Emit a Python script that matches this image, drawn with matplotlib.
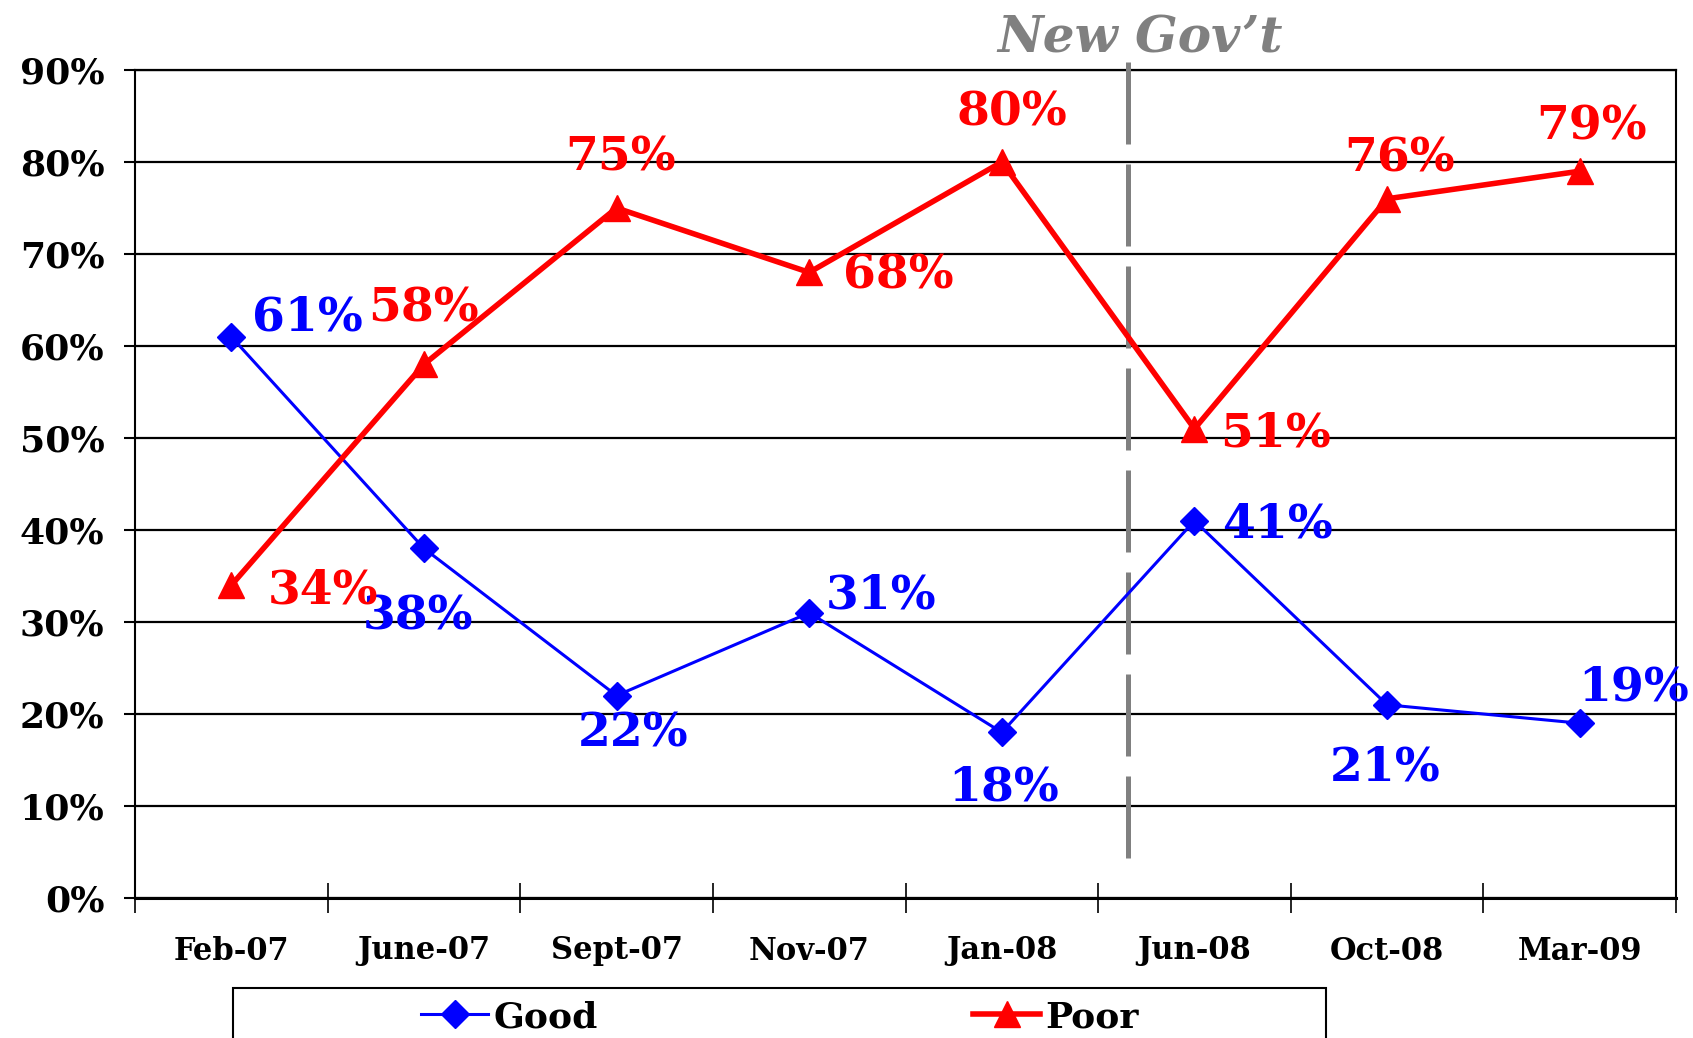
import matplotlib
matplotlib.use('Agg')
import matplotlib.pyplot as plt
from matplotlib.patches import Rectangle
from matplotlib.lines import Line2D

categories = ['Feb-07', 'June-07', 'Sept-07', 'Nov-07', 'Jan-08', 'Jun-08', 'Oct-08', 'Mar-09']
good = [61, 38, 22, 31, 18, 41, 21, 19]
poor = [34, 58, 75, 68, 80, 51, 76, 79]
ytick_values = [0, 10, 20, 30, 40, 50, 60, 70, 80, 90]
ytick_labels = [f'{v}%' for v in ytick_values]
series_names = ['Good', 'Poor']
annotation_text = 'New Gov\u2019t'

# label offsets in pixels (dx, dy; y up)
good_offsets = [(76, 19), (-6, -68), (17, -38), (72, 17), (2, -55), (83, -4), (-2, -63), (54, 36)]
poor_offsets = [(92, -5), (-1, 56), (4, 50), (89, -3), (10, 49), (81, -5), (12, 40), (12, 45)]

BLUE = '#0000FF'
RED = '#FF0000'
GRAY = '#808080'
FONT = 'DejaVu Serif'

fig = plt.figure(figsize=(16.93, 10.38), dpi=100)
ax = fig.add_axes([135 / 1693, 1 - 898 / 1038, (1676 - 135) / 1693, (898 - 70) / 1038])

x = list(range(len(categories)))
ax.set_xlim(-0.5, len(categories) - 0.5)
ax.set_ylim(0, 90)

# gridlines
for v in ytick_values:
    ax.axhline(v, color='black', lw=1.6, zorder=1)

ax.plot(x, good, color=BLUE, lw=2.2, marker='D', markersize=14, zorder=4, clip_on=False)
ax.plot(x, poor, color=RED, lw=4.0, marker='^', markersize=19, zorder=5, clip_on=False)

# vertical dashed line (drawn top to bottom so the pattern starts at the top)
ax.plot([4.655, 4.655], [90.9, 3.8], color=GRAY, lw=3.6, dashes=(16.4, 4.0), zorder=3,
        clip_on=False, solid_capstyle='butt', dash_capstyle='butt')
ax.text(4.72, 93.4, annotation_text, color=GRAY, fontsize=36, fontweight='bold',
        fontstyle='italic', family=FONT, ha='center', va='center', clip_on=False)

for i, v in enumerate(good):
    ax.annotate(f'{v}%', (i, v), xytext=good_offsets[i], textcoords='offset pixels',
                ha='center', va='center', color=BLUE, fontsize=34, fontweight='bold',
                family=FONT, zorder=6, annotation_clip=False)
for i, v in enumerate(poor):
    ax.annotate(f'{v}%', (i, v), xytext=poor_offsets[i], textcoords='offset pixels',
                ha='center', va='center', color=RED, fontsize=34, fontweight='bold',
                family=FONT, zorder=6, annotation_clip=False)

# ticks
ax.set_yticks(ytick_values)
ax.set_yticklabels(ytick_labels, family=FONT, fontweight='bold', fontsize=26)
ax.tick_params(axis='y', direction='out', length=8, width=1.5, pad=14)

ax.set_xticks([i - 0.5 for i in range(len(categories) + 1)])
ax.set_xticklabels([])
ax.tick_params(axis='x', which='major', direction='inout', length=22, width=1.2)
ax.set_xticks(x, minor=True)
ax.set_xticklabels(categories, minor=True, family=FONT, fontweight='bold', fontsize=22)
ax.tick_params(axis='x', which='minor', length=0, pad=27)

for side in ['left', 'right', 'top', 'bottom']:
    ax.spines[side].set_color('black')
ax.spines['left'].set_linewidth(1.5)
ax.spines['right'].set_linewidth(1.5)
ax.spines['top'].set_linewidth(1.6)
ax.spines['bottom'].set_linewidth(2.2)

# legend
handles = [Line2D([], [], color=BLUE, lw=2.2, marker='D', markersize=14),
           Line2D([], [], color=RED, lw=4.0, marker='^', markersize=19)]
fig.legend(handles, series_names, loc='center', bbox_to_anchor=(780 / 1693, 1 - 1017 / 1038),
           ncol=2, frameon=False, handlelength=1.85, handletextpad=0.15, columnspacing=10.4,
           prop={'family': FONT, 'weight': 'bold', 'size': 26})
fig.patches.append(Rectangle((233 / 1693, -0.05), 1093 / 1693, 0.05 + (1 - 988 / 1038),
                             transform=fig.transFigure, fill=False, edgecolor='black',
                             lw=1.5, clip_on=False))

fig.savefig('out.png', dpi=100)
